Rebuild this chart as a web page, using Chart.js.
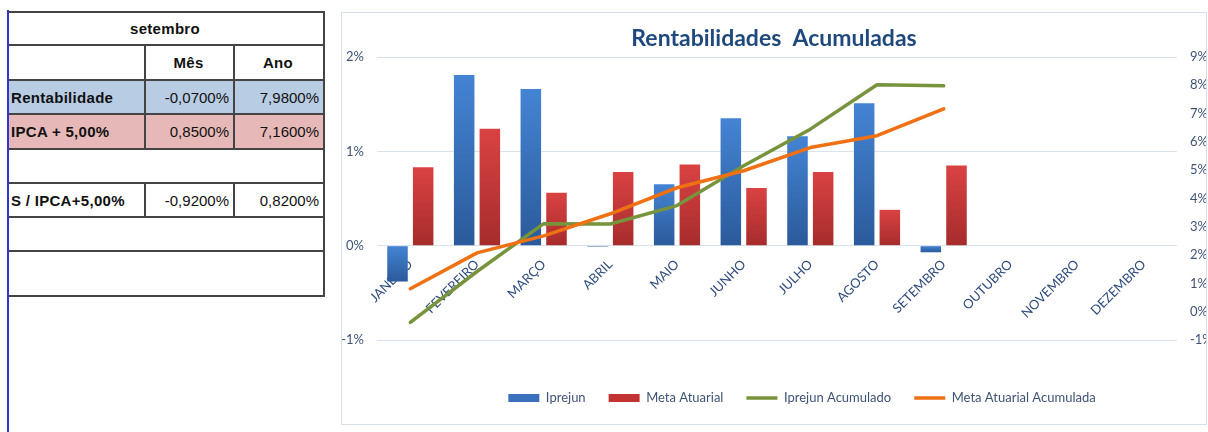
<!DOCTYPE html>
<html><head><meta charset="utf-8">
<script src="https://cdn.jsdelivr.net/npm/chart.js@4/dist/chart.umd.min.js"></script>
<style>
html,body{margin:0;padding:0;background:#fff;width:1208px;height:432px;overflow:hidden;position:relative;}
#tbl{position:absolute;left:7px;top:11px;border-collapse:collapse;table-layout:fixed;font-family:"Liberation Sans",Arial,sans-serif;font-size:15px;color:#111;}
#tbl td{border:2px solid #444;padding:0 4px 0 2px;white-space:nowrap;overflow:hidden;box-sizing:border-box;}
#tbl td.b{font-weight:bold;letter-spacing:0.3px;}
#tbl td.c{text-align:center;}
#tbl td.r{text-align:right;}
#tbl tr.blue td{background:#B8CCE4;}
#tbl tr.pink td{background:#E6B9B8;}
#bl{position:absolute;left:7px;top:10px;width:2px;height:422px;background:#3434CC;}
#box{position:absolute;left:341px;top:12px;width:866px;height:413px;box-sizing:border-box;border:1px solid #D6E0EC;}
#c{display:block;}
</style></head>
<body>
<table id="tbl">
<colgroup><col style="width:137px"><col style="width:89px"><col style="width:90px"></colgroup>
<tr style="height:33px"><td colspan="3" class="b c">setembro</td></tr>
<tr style="height:35px"><td></td><td class="b c">Mês</td><td class="b c">Ano</td></tr>
<tr class="blue" style="height:34px"><td class="b">Rentabilidade</td><td class="r">-0,0700%</td><td class="r">7,9800%</td></tr>
<tr class="pink" style="height:35px"><td class="b">IPCA + 5,00%</td><td class="r">0,8500%</td><td class="r">7,1600%</td></tr>
<tr style="height:34px"><td colspan="3"></td></tr>
<tr style="height:34px"><td class="b">S / IPCA+5,00%</td><td class="r">-0,9200%</td><td class="r">0,8200%</td></tr>
<tr style="height:34px"><td colspan="3"></td></tr>
<tr style="height:45px"><td colspan="3"></td></tr>
</table>
<div id="bl"></div>
<div id="box"><canvas id="c" width="864" height="411"></canvas></div>
<script>
const months = ['JANEIRO','FEVEREIRO','MARÇO','ABRIL','MAIO','JUNHO','JULHO','AGOSTO','SETEMBRO','OUTUBRO','NOVEMBRO','DEZEMBRO'];
const iprejun = [-0.38, 1.81, 1.66, -0.01, 0.65, 1.35, 1.16, 1.51, -0.07, null, null, null];
const metaAtuarial = [0.83, 1.24, 0.56, 0.78, 0.86, 0.61, 0.78, 0.38, 0.85, null, null, null];
const iprejunAcumulado = [-0.38, 1.42, 3.11, 3.10, 3.75, 5.16, 6.45, 8.02, 7.98, null, null, null];
const metaAtuarialAcumulada = [0.81, 2.08, 2.68, 3.46, 4.38, 4.98, 5.80, 6.22, 7.17, null, null, null];
const leftAxisRange = [-1, 2];
const rightAxisRange = [-1, 9];

const TICK = '#3F5377';
function barGradient(top, bottom){
  return function(ctx){
    const chart = ctx.chart;
    if (!chart.chartArea || ctx.type !== 'data' || ctx.raw == null) return top;
    const ys = chart.scales.y;
    const y0 = ys.getPixelForValue(0), y1 = ys.getPixelForValue(ctx.raw);
    if (Math.abs(y1 - y0) < 2) return bottom;
    const g = chart.ctx.createLinearGradient(0, Math.min(y0, y1), 0, Math.max(y0, y1));
    g.addColorStop(0, top); g.addColorStop(1, bottom);
    return g;
  };
}
const legendColors = {'Iprejun':'#3A70BE','Meta Atuarial':'#C23434'};
const shiftLegend = {id:'shiftLegend', afterLayout(chart){ if(chart.legend){ chart.legend.left += 28; chart.legend.right += 28; } }};

function draw(){
new Chart(document.getElementById('c'), {
  data: {
    labels: months,
    datasets: [
      {type:'bar', label:'Iprejun', data: iprejun, backgroundColor: barGradient('#4484D4','#2B5A9A'), yAxisID:'y', xAxisID:'x', order:2, categoryPercentage:0.77, barPercentage:0.8},
      {type:'bar', label:'Meta Atuarial', data: metaAtuarial, backgroundColor: barGradient('#DA4242','#A62C2C'), yAxisID:'y', xAxisID:'x', order:2, categoryPercentage:0.77, barPercentage:0.8},
      {type:'line', label:'Iprejun Acumulado', data: iprejunAcumulado, borderColor:'#77933C', backgroundColor:'#77933C', borderWidth:3.5, pointRadius:0, pointHoverRadius:0, tension:0, yAxisID:'y1', xAxisID:'x', order:1, borderJoinStyle:'round', borderCapStyle:'round', spanGaps:false},
      {type:'line', label:'Meta Atuarial Acumulada', data: metaAtuarialAcumulada, borderColor:'#F07014', backgroundColor:'#F07014', borderWidth:3.5, pointRadius:0, pointHoverRadius:0, tension:0, yAxisID:'y1', xAxisID:'x', order:0, borderJoinStyle:'round', borderCapStyle:'round', spanGaps:false}
    ]
  },
  options: {
    responsive:false, animation:false, devicePixelRatio:1,
    layout:{padding:{top:0,bottom:9.5,left:0,right:0}},
    plugins:{
      tooltip:{enabled:false},
      title:{display:true, text:'Rentabilidades  Acumuladas', color:'#1F497D', font:{family:'Lato', size:23, weight:'bold'}, padding:{top:12, bottom:4.4}},
      legend:{position:'bottom', labels:{usePointStyle:true, pointStyleWidth:31, boxHeight:8, padding:23, color:TICK, font:{family:'Lato', size:13},
        sort:(a,b)=>a.datasetIndex-b.datasetIndex,
        generateLabels(chart){
          const items = Chart.defaults.plugins.legend.labels.generateLabels(chart);
          items.forEach(it=>{
            const ds = chart.data.datasets[it.datasetIndex];
            if (ds.type === 'line'){ it.pointStyle='line'; it.strokeStyle=ds.borderColor; it.lineWidth=3.5; }
            else { it.pointStyle='rect'; it.fillStyle=legendColors[ds.label]; it.strokeStyle=legendColors[ds.label]; it.lineWidth=0; }
          });
          return items;
        }}}
    },
    scales:{
      x:{type:'category', position:{y:0}, grid:{display:false, drawTicks:false}, border:{display:false},
         ticks:{autoSkip:false, minRotation:45, maxRotation:45, padding:11, color:'#2F4C7E', font:{family:'Lato', size:13}}},
      xspace:{type:'category', position:'bottom', grid:{display:false, drawTicks:false}, border:{display:false}, ticks:{display:false},
         afterFit(s){ s.height = 28.5; }},
      y:{position:'left', min:leftAxisRange[0], max:leftAxisRange[1], grid:{color:'#D9E3F0', lineWidth:1, drawTicks:false}, border:{display:false},
         ticks:{stepSize:1, padding:13, color:TICK, font:{family:'Lato', size:13}, callback:v=>v+'%'},
         afterFit(s){ s.width = 35; }},
      y1:{position:'right', min:rightAxisRange[0], max:rightAxisRange[1], grid:{display:false, drawTicks:false}, border:{display:false},
         ticks:{stepSize:1, padding:13, color:TICK, font:{family:'Lato', size:13}, callback:v=>v+'%'},
         afterFit(s){ s.width = 29; }}
    }
  },
  plugins:[shiftLegend]
});
}
if (document.fonts && document.fonts.load) {
  Promise.all([document.fonts.load('bold 23px Lato'), document.fonts.load('13px Lato')]).then(draw, draw);
} else draw();
</script>
</body></html>
